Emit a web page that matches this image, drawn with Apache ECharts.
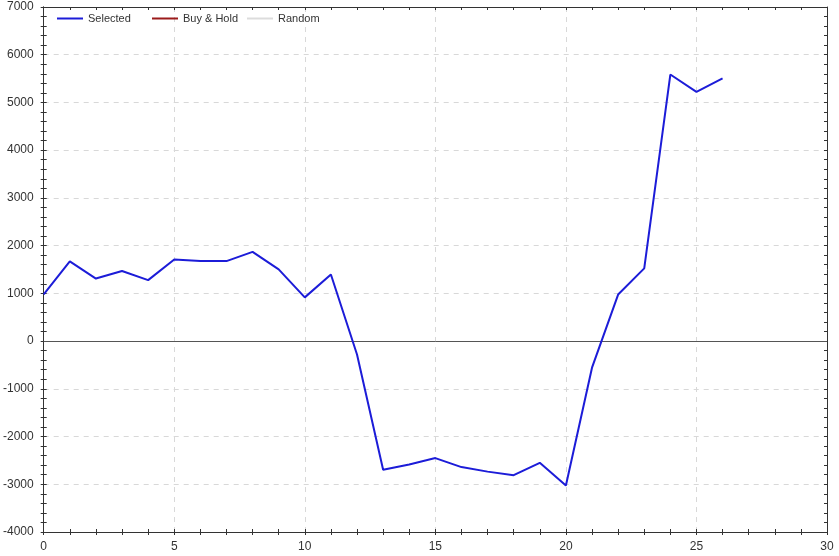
<!DOCTYPE html>
<html>
<head>
<meta charset="utf-8">
<script src="https://cdn.jsdelivr.net/npm/echarts@6/dist/echarts.min.js"></script>
<style>
html,body{margin:0;padding:0;background:#fff;}
#chart{width:839px;height:556px;}
</style>
</head>
<body>
<div id="chart"></div>
<script>
var xValues = [0,1,2,3,4,5,6,7,8,9,10,11,12,13,14,15,16,17,18,19,20,21,22,23,24,25,26];
var selectedValues = [980,1670,1310,1470,1278,1710,1676,1676,1870,1502,916,1395,-280,-2695,-2585,-2451,-2640,-2735,-2810,-2550,-3025,-557,975,1523,5585,5222,5505];
var buyHoldValues = [];
var randomValues = [];
var seriesNames = ['Selected','Buy & Hold','Random'];

var selectedData = xValues.map(function(x,i){return [x, selectedValues[i]];});

var font = 'Liberation Sans, Arial, sans-serif';
var axisColor = '#333';
function xAx(opts){
  return Object.assign({
    type:'value', min:0, max:30, interval:5,
    axisLine:{show:true, onZero:false, lineStyle:{color:axisColor}},
    axisTick:{show:true, length:3, lineStyle:{color:axisColor}},
    minorTick:{show:true, splitNumber:5, length:3, lineStyle:{color:axisColor}},
    axisLabel:{show:false},
    splitLine:{show:false}
  }, opts);
}
function yAx(opts){
  return Object.assign({
    type:'value', min:-4000, max:7000, interval:1000,
    axisLine:{show:true, onZero:false, lineStyle:{color:axisColor}},
    axisTick:{show:true, length:3, lineStyle:{color:axisColor}},
    minorTick:{show:true, splitNumber:5, length:3, lineStyle:{color:axisColor}},
    axisLabel:{show:false},
    splitLine:{show:false}
  }, opts);
}
function legendAt(name, left){
  return {
    left:left, top:8, itemWidth:26, itemHeight:2, icon:'rect',
    textStyle:{fontFamily:font, fontSize:11, color:'#333'},
    data:[name]
  };
}

var chart = echarts.init(document.getElementById('chart'), null, {renderer:'canvas'});
chart.setOption({
  animation:false,
  backgroundColor:'#fff',
  grid:{left:43, right:12, top:7, bottom:24, containLabel:false},
  legend:[legendAt(seriesNames[0],52), legendAt(seriesNames[1],147), legendAt(seriesNames[2],242)],
  xAxis:[
    xAx({position:'bottom', axisLabel:{show:true, fontFamily:font, fontSize:12, color:'#333', margin:9},
         splitLine:{show:true, lineStyle:{color:'#d8d8d8', type:[5,5]}}}),
    xAx({position:'bottom', axisTick:{show:true, inside:true, length:3, lineStyle:{color:axisColor}}}),
    xAx({position:'top', axisTick:{show:true, inside:true, length:3, lineStyle:{color:axisColor}}})
  ],
  yAxis:[
    yAx({position:'left', axisLabel:{show:true, fontFamily:font, fontSize:12, color:'#333', margin:10,
           formatter:function(v){return String(v);}},
         splitLine:{show:true, lineStyle:{color:'#d8d8d8', type:[5,5]}}}),
    yAx({position:'left', axisTick:{show:true, inside:true, length:3, lineStyle:{color:axisColor}}}),
    yAx({position:'right', axisTick:{show:true, inside:true, length:3, lineStyle:{color:axisColor}}})
  ],
  series:[
    {name:seriesNames[0], type:'line', data:selectedData, showSymbol:false, symbol:'none',
     color:'#1c1cd8', lineStyle:{width:2, color:'#1c1cd8'}, z:5,
     markLine:{silent:true, symbol:'none', label:{show:false},
       lineStyle:{color:'#555', type:'solid', width:1}, data:[{yAxis:0}]}},
    {name:seriesNames[1], type:'line', data:buyHoldValues, symbol:'none', color:'#9b1b1b', lineStyle:{width:2}},
    {name:seriesNames[2], type:'line', data:randomValues, symbol:'none', color:'#dcdcdc', lineStyle:{width:2}}
  ]
});
</script>
</body>
</html>
